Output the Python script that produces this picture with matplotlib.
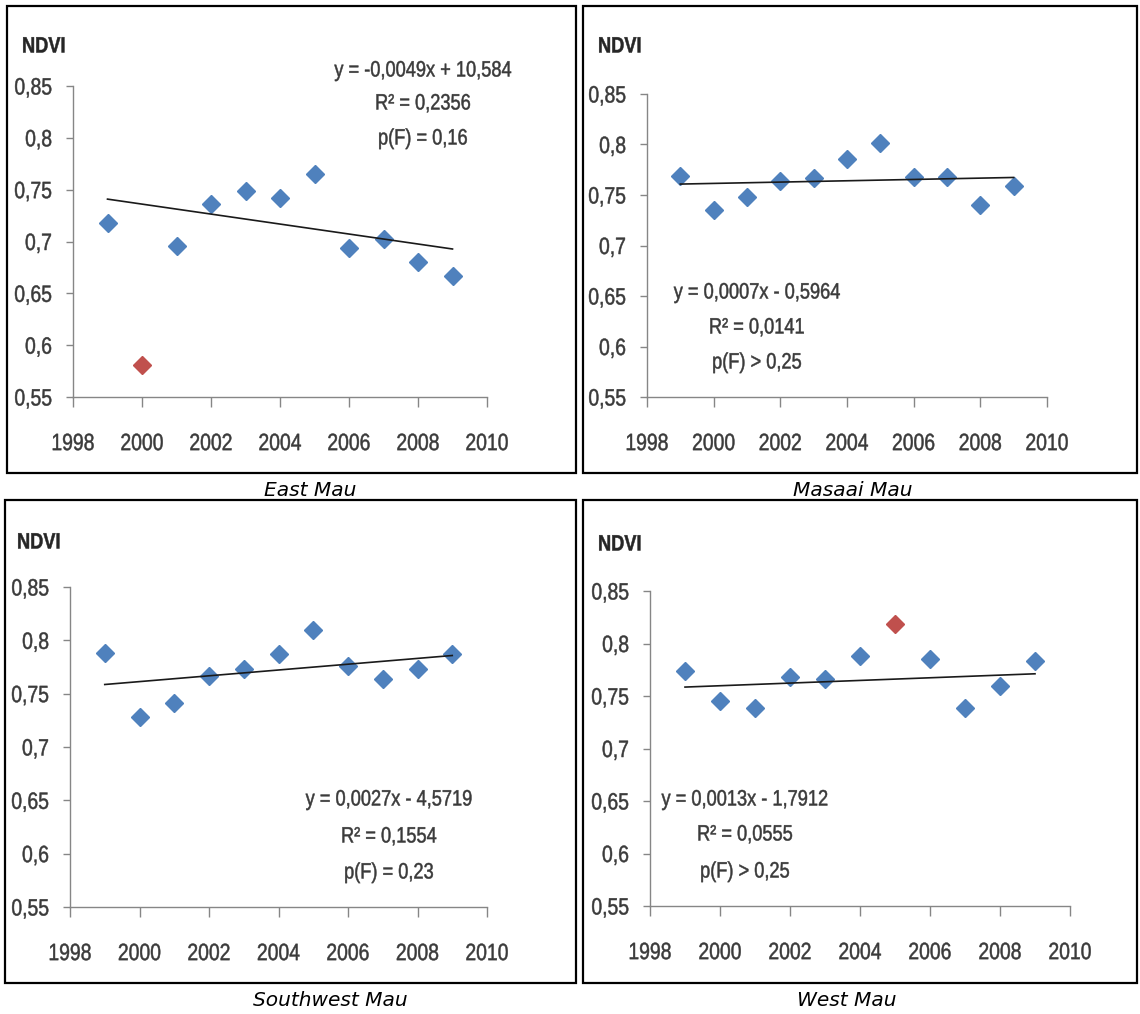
import matplotlib
matplotlib.use("Agg")
import matplotlib.pyplot as plt
import numpy as np
from matplotlib.patches import Rectangle
from matplotlib.patheffects import AbstractPathEffect
from matplotlib.transforms import Affine2D

# --- data ---
years = [1999, 2000, 2001, 2002, 2003, 2004, 2005, 2006, 2007, 2008, 2009]

east_mau = [0.718, 0.581, 0.696, 0.736, 0.749, 0.742, 0.765, 0.694, 0.702, 0.680, 0.667]
masaai_mau = [0.769, 0.735, 0.748, 0.764, 0.767, 0.786, 0.801, 0.768, 0.768, 0.740, 0.759]
southwest_mau = [0.788, 0.728, 0.741, 0.767, 0.773, 0.787, 0.810, 0.776, 0.764, 0.773, 0.787]
west_mau = [0.774, 0.745, 0.739, 0.768, 0.766, 0.788, 0.819, 0.785, 0.739, 0.760, 0.783]

# years drawn in red and left out of the trend
east_outliers = [2000]
masaai_outliers = []
southwest_outliers = []
west_outliers = [2005]

names = ["East Mau", "Masaai Mau", "Southwest Mau", "West Mau"]

east_eq = ["y = -0,0049x + 10,584", "R² = 0,2356", "p(F) = 0,16"]
masaai_eq = ["y = 0,0007x - 0,5964", "R² = 0,0141", "p(F) > 0,25"]
southwest_eq = ["y = 0,0027x - 4,5719", "R² = 0,1554", "p(F) = 0,23"]
west_eq = ["y = 0,0013x - 1,7912", "R² = 0,0555", "p(F) > 0,25"]

y_ticks = [0.55, 0.6, 0.65, 0.7, 0.75, 0.8, 0.85]
y_tick_labels = ["0,55", "0,6", "0,65", "0,7", "0,75", "0,8", "0,85"]
x_ticks = [1998, 2000, 2002, 2004, 2006, 2008, 2010]

BLUE = "#4F81BD"
RED = "#C0504D"
AXIS = "#868686"
LABEL = "#3a3a3a"
FONT = ["Liberation Sans", "DejaVu Sans"]


class Condense(AbstractPathEffect):
    """squeeze text horizontally (stand-in for a narrow font), light stroke"""

    def __init__(self, sx=0.82, anchor="center", stroke=0.35):
        super().__init__()
        self.sx = sx
        self.anchor = anchor
        self.stroke = stroke

    def draw_path(self, renderer, gc, tpath, affine, rgbFace=None):
        v = tpath.vertices
        lo, hi = (v[:, 0].min(), v[:, 0].max()) if len(v) else (0, 0)
        a = {"left": lo, "center": (lo + hi) / 2, "right": hi}[self.anchor]
        t = Affine2D().translate(-a, 0).scale(self.sx, 1).translate(a, 0) + affine
        gc0 = renderer.new_gc()
        gc0.copy_properties(gc)
        if rgbFace is not None and self.stroke > 0:
            gc0.set_foreground(rgbFace)
            gc0.set_linewidth(self.stroke)
        renderer.draw_path(gc0, tpath, t, rgbFace)
        gc0.restore()


W, H = 1140, 1014
fig = plt.figure(figsize=(W / 100, H / 100), dpi=100)
fig.patch.set_facecolor("white")


def fpos(x, y):
    return x / W, 1 - y / H


# layout in pixels: axes (left, right, top, bottom), frame, NDVI label,
# equation centre and line positions, caption centre
layout = [
    dict(ax=(73, 487, 86, 397), box=(7, 576, 6, 473), ndvi=(22, 47),
         eq_x=423, eq_y=(71, 104, 139), cap=(310, 490)),
    dict(ax=(647, 1047, 94, 397), box=(583, 1137, 6, 473), ndvi=(598, 47),
         eq_x=757, eq_y=(293, 328, 363), cap=(853, 490)),
    dict(ax=(70, 487, 587, 907), box=(5, 576, 500, 983), ndvi=(17, 543),
         eq_x=389, eq_y=(800, 837, 873), cap=(330, 1000)),
    dict(ax=(650, 1070, 591, 906), box=(583, 1137, 500, 983), ndvi=(598, 545),
         eq_x=745, eq_y=(800, 835, 872), cap=(847, 1000)),
]

series = [east_mau, masaai_mau, southwest_mau, west_mau]
outliers = [east_outliers, masaai_outliers, southwest_outliers, west_outliers]
equations = [east_eq, masaai_eq, southwest_eq, west_eq]

for name, vals, outl, eq, lay in zip(names, series, outliers, equations, layout):
    l, r, t, b = lay["ax"]
    ax = fig.add_axes([l / W, 1 - b / H, (r - l) / W, (b - t) / H])
    ax.patch.set_alpha(0)

    x = np.array(years)
    y = np.array(vals)
    bad = np.isin(x, outl)

    ax.plot(x[~bad], y[~bad], linestyle="none", marker="D", ms=9,
            color=BLUE, mec=BLUE, zorder=2, clip_on=False)
    if bad.any():
        ax.plot(x[bad], y[bad], linestyle="none", marker="D", ms=9,
                color=RED, mec=RED, zorder=2, clip_on=False)

    slope, icpt = np.polyfit(x[~bad], y[~bad], 1)
    xs = np.array([years[0], years[-1]])
    ax.plot(xs, slope * xs + icpt, color="#1a1a1a", lw=1.2, zorder=3)

    ax.set_xlim(1998, 2010)
    ax.set_ylim(0.55, 0.85)
    ax.set_xticks(x_ticks)
    ax.set_xticklabels([str(v) for v in x_ticks])
    ax.set_yticks(y_ticks)
    ax.set_yticklabels(y_tick_labels)
    for s in ["top", "right"]:
        ax.spines[s].set_visible(False)
    for s in ["left", "bottom"]:
        ax.spines[s].set_color(AXIS)
        ax.spines[s].set_linewidth(1.0)
    ax.tick_params(axis="both", direction="out", color=AXIS, width=1.0,
                   labelcolor=LABEL, labelsize=17)
    ax.tick_params(axis="y", length=5, pad=10)
    ax.tick_params(axis="x", length=7, pad=19)
    for lab in ax.get_xticklabels():
        lab.set_family(FONT)
        lab.set_path_effects([Condense(0.82, "center")])
    for lab in ax.get_yticklabels():
        lab.set_family(FONT)
        lab.set_path_effects([Condense(0.82, "right")])

    nx, ny = lay["ndvi"]
    fig.text(*fpos(nx, ny), "NDVI", family=FONT, fontsize=16,
             fontweight="bold", color="#262626", ha="left", va="center",
             path_effects=[Condense(0.82, "left")])

    for line, ly in zip(eq, lay["eq_y"]):
        fig.text(*fpos(lay["eq_x"], ly), line, family=FONT, fontsize=16,
                 color=LABEL, ha="center", va="center",
                 path_effects=[Condense(0.82, "center")])

    bl, br, bt, bb = lay["box"]
    fig.add_artist(Rectangle((bl / W, 1 - bb / H), (br - bl) / W, (bb - bt) / H,
                             transform=fig.transFigure, fill=False,
                             edgecolor="black", lw=1.6))

    cx, cy = lay["cap"]
    fig.text(*fpos(cx, cy), name, family="DejaVu Sans", style="italic",
             fontsize=14.5, color="black", ha="center", va="center")

fig.savefig("out.png", dpi=100, facecolor="white")
